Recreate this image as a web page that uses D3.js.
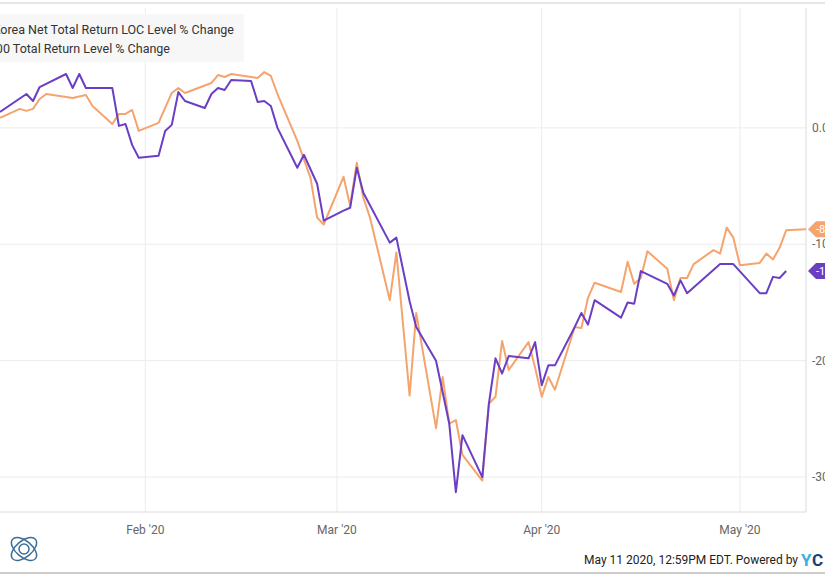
<!DOCTYPE html>
<html><head><meta charset="utf-8">
<script src="https://cdn.jsdelivr.net/npm/d3@7"></script>
<style>body{margin:0;background:#fff}svg{font-family:Roboto,sans-serif}</style>
</head><body><svg id="c" width="825" height="575"></svg>
<script>
const seriesNames = ["MSCI Korea Net Total Return LOC Level % Change", "S&P 500 Total Return Level % Change"];
const seriesColors = ["#6a3fc4", "#f4a46c"];
const koreaData = [
["2020-01-10",1.37],["2020-01-14",2.91],["2020-01-15",2.31],["2020-01-16",3.51],["2020-01-20",4.63],["2020-01-21",3.43],["2020-01-22",4.63],["2020-01-23",3.43],["2020-01-27",3.43],["2020-01-28",0.17],["2020-01-29",0.34],["2020-01-30",-1.46],["2020-01-31",-2.57],["2020-02-03",-2.4],["2020-02-04",-0.26],["2020-02-05",0.26],["2020-02-06",3.08],["2020-02-07",2.31],["2020-02-10",1.71],["2020-02-11",2.91],["2020-02-12",3.43],["2020-02-13",3.26],["2020-02-14",4.11],["2020-02-17",4.03],["2020-02-18",2.23],["2020-02-19",2.31],["2020-02-20",1.88],["2020-02-21",0],["2020-02-24",-3.43],["2020-02-25",-2.31],["2020-02-27",-4.8],["2020-02-28",-7.97],["2020-03-02",-7.11],["2020-03-03",-6.86],["2020-03-04",-3.43],["2020-03-05",-5.57],["2020-03-09",-9.86],["2020-03-10",-9.43],["2020-03-12",-14.9],["2020-03-13",-17.1],["2020-03-16",-20],["2020-03-18",-25.4],["2020-03-19",-31.3],["2020-03-20",-26.4],["2020-03-23",-30.0],["2020-03-24",-23.7],["2020-03-25",-19.8],["2020-03-26",-21.1],["2020-03-27",-19.6],["2020-03-30",-19.8],["2020-03-31",-18.4],["2020-04-01",-22.1],["2020-04-02",-20.4],["2020-04-03",-20.4],["2020-04-06",-17.1],["2020-04-07",-15.9],["2020-04-08",-16.9],["2020-04-09",-14.8],["2020-04-13",-16.3],["2020-04-14",-15.0],["2020-04-15",-15.1],["2020-04-16",-12.3],["2020-04-20",-13.4],["2020-04-21",-14.4],["2020-04-22",-13.1],["2020-04-23",-14.2],["2020-04-28",-11.7],["2020-04-30",-11.7],["2020-05-04",-14.2],["2020-05-05",-14.2],["2020-05-06",-12.8],["2020-05-07",-12.9],["2020-05-08",-12.3]];
const spData = [
["2020-01-10",0.86],["2020-01-13",1.63],["2020-01-14",1.46],["2020-01-15",1.63],["2020-01-16",2.48],["2020-01-17",2.91],["2020-01-21",2.57],["2020-01-23",2.83],["2020-01-24",1.88],["2020-01-27",0.34],["2020-01-28",1.2],["2020-01-29",1.2],["2020-01-30",1.54],["2020-01-31",-0.26],["2020-02-03",0.43],["2020-02-05",3.0],["2020-02-06",3.43],["2020-02-07",3.0],["2020-02-11",3.86],["2020-02-12",4.54],["2020-02-13",4.37],["2020-02-14",4.63],["2020-02-18",4.29],["2020-02-19",4.8],["2020-02-20",4.46],["2020-02-21",2.91],["2020-02-24",-1.11],["2020-02-26",-4.3],["2020-02-27",-7.7],["2020-02-28",-8.3],["2020-03-02",-4.2],["2020-03-03",-6.7],["2020-03-04",-3.0],["2020-03-05",-6.0],["2020-03-06",-7.7],["2020-03-09",-14.8],["2020-03-10",-10.7],["2020-03-12",-23.0],["2020-03-13",-15.9],["2020-03-16",-25.8],["2020-03-17",-21.4],["2020-03-18",-25.4],["2020-03-19",-25.1],["2020-03-20",-28.1],["2020-03-23",-30.3],["2020-03-24",-23.7],["2020-03-25",-23.1],["2020-03-26",-18.3],["2020-03-27",-20.8],["2020-03-30",-18.4],["2020-03-31",-20.6],["2020-04-01",-23.1],["2020-04-02",-21.4],["2020-04-03",-22.5],["2020-04-06",-17.1],["2020-04-07",-17.2],["2020-04-08",-14.6],["2020-04-09",-13.3],["2020-04-13",-14.1],["2020-04-14",-11.5],["2020-04-15",-13.4],["2020-04-16",-12.9],["2020-04-17",-10.6],["2020-04-20",-12.1],["2020-04-21",-14.8],["2020-04-22",-12.9],["2020-04-23",-12.9],["2020-04-24",-11.7],["2020-04-27",-10.5],["2020-04-28",-10.8],["2020-04-29",-8.57],["2020-04-30",-9.43],["2020-05-01",-11.8],["2020-05-04",-11.6],["2020-05-05",-10.8],["2020-05-06",-11.3],["2020-05-07",-10.3],["2020-05-08",-8.8],["2020-05-11",-8.7]];
const yTicks = [0,-10,-20,-30];
const xTicks = ["2020-02-01","2020-03-01","2020-04-01","2020-05-01"];
const xTickLabels = ["Feb '20","Mar '20","Apr '20","May '20"];
const footer = "May 11 2020, 12:59PM EDT. Powered by";

const P = d3.timeParse("%Y-%m-%d");
const svg = d3.select("#c");
const L=0,R=806,T=8,B=512;
const x = d3.scaleTime().domain([P("2020-01-10"),P("2020-05-11")]).range([L,R]);
const y = d3.scaleLinear().domain([10.3,-33]).range([T,B]);

svg.append("line").attr("x1",0).attr("x2",825).attr("y1",3).attr("y2",3).attr("stroke","#e6e6e6").attr("stroke-width",2);
const g = svg.append("g");
g.selectAll(".yg").data(yTicks).join("line").attr("x1",L).attr("x2",R).attr("y1",d=>y(d)).attr("y2",d=>y(d)).attr("stroke","#ececec");
g.selectAll(".xg").data(xTicks).join("line").attr("x1",d=>x(P(d))).attr("x2",d=>x(P(d))).attr("y1",T).attr("y2",B).attr("stroke","#ececec");
g.append("line").attr("x1",R).attr("x2",R).attr("y1",T).attr("y2",B).attr("stroke","#dcdcdc");
g.append("line").attr("x1",L).attr("x2",R).attr("y1",B).attr("y2",B).attr("stroke","#dcdcdc");

svg.selectAll(".yl").data(yTicks).join("text").attr("x",812).attr("y",d=>y(d)+4).attr("font-size",12).attr("fill","#666").text(d=>d.toFixed(2)+"%");
svg.selectAll(".xl").data(xTicks).join("text").attr("x",d=>x(P(d))).attr("y",534).attr("text-anchor","middle").attr("font-size",12).attr("fill","#666").text((d,i)=>xTickLabels[i]);

// legend
svg.append("rect").attr("x",0).attr("y",14).attr("width",244).attr("height",48).attr("fill","#f7f7f7");
svg.append("text").attr("x",230).attr("y",34).attr("text-anchor","end").attr("font-size",12.5).attr("fill","#333").text(seriesNames[0]).attr("x",234);
svg.append("text").attr("x",170).attr("y",53).attr("text-anchor","end").attr("font-size",12.5).attr("fill","#333").text(seriesNames[1]);

const line = d3.line().x(d=>x(P(d[0]))).y(d=>y(d[1]));
[[spData,1],[koreaData,0]].forEach(([data,i])=>{
  g.append("path").attr("d",line(data)).attr("fill","none").attr("stroke",seriesColors[i]).attr("stroke-width",2).attr("stroke-linejoin","round");
  const last=data[data.length-1], ty=y(last[1]);
  svg.append("path").attr("d",`M808,${ty} L816,${ty-8} L840,${ty-8} L840,${ty+8} L816,${ty+8} Z`).attr("fill",seriesColors[i]);
  svg.append("text").attr("x",816).attr("y",ty+4).attr("font-size",11).attr("fill","#fff").text(last[1].toFixed(2)+"%");
});

svg.append("text").attr("x",798).attr("y",564).attr("text-anchor","end").attr("font-size",12).attr("fill","#222").text(footer);
svg.append("text").attr("x",801).attr("y",566).attr("font-size",17).attr("font-weight","bold").attr("fill","#3bb0e6").text("Y");
svg.append("text").attr("x",812).attr("y",566).attr("font-size",17).attr("font-weight","bold").attr("fill","#1d3f73").text("C");
svg.append("line").attr("x1",0).attr("x2",825).attr("y1",573).attr("y2",573).attr("stroke","#ccc").attr("stroke-width",2);
const lg=svg.append("g").attr("fill","none").attr("stroke","#3a6f9a").attr("stroke-width",1.5);
lg.append("ellipse").attr("cx",24).attr("cy",549).attr("rx",15).attr("ry",8).attr("transform","rotate(-40 24 549)");
lg.append("ellipse").attr("cx",24).attr("cy",549).attr("rx",15).attr("ry",8).attr("transform","rotate(40 24 549)");
lg.append("circle").attr("cx",24).attr("cy",549).attr("r",5);
</script></body></html>
